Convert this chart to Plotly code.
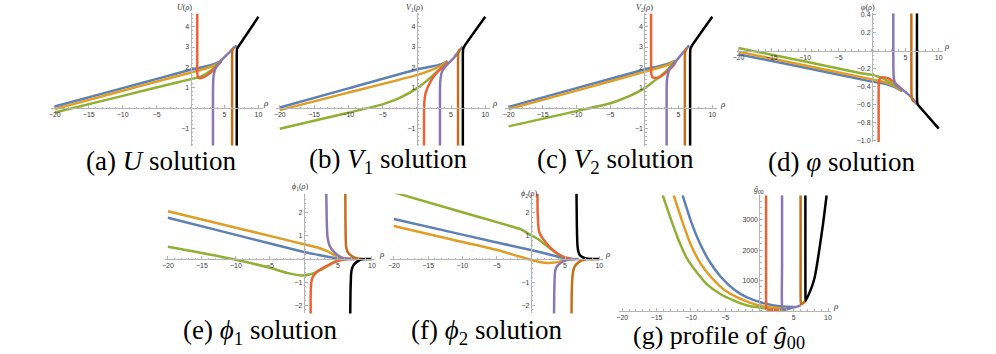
import plotly.graph_objects as go

W, H = 996, 354

# Mathematica default palette + black
COLORS = ["#5E81B5", "#E19C24", "#8FB032", "#EB6235", "#8778B3", "#C56E1A", "#000000"]

RHO_TICKS = [-20, -15, -10, -5, 5, 10]

# ---- (a) U(rho) ----
U_BLUE = [(-20, 0.08), (-10, 0.98), (-4, 1.52), (0, 1.88), (2, 2.03), (3.5, 2.17), (4.5, 2.32)]
U_ORANGE = [(-20, -0.05), (-10, 0.85), (-4, 1.39), (0, 1.74), (2, 1.92), (3.5, 2.1), (4.5, 2.3)]
U_GREEN = [(-20, -0.22), (-10, 0.6), (-2, 1.26), (0, 1.42), (1.5, 1.55), (3, 1.85), (4, 2.15), (4.5, 2.3)]
U_RED = [(0.98, 4.65), (0.98, 2.5), (1.0, 1.7), (1.1, 1.52), (1.4, 1.47), (1.95, 1.52),
         (2.9, 1.73), (3.66, 1.98), (4.3, 2.22), (4.6, 2.36)]
U_PURPLE = [(3.3, -1.85), (3.3, 0.5), (3.33, 1.3), (3.45, 1.7), (3.8, 2.05), (4.6, 2.38),
            (5.6, 2.7), (6.3, 2.95), (6.8, 3.08)]
U_DKORANGE = [(6.12, -1.85), (6.12, 2.5), (6.17, 2.85), (6.3, 2.95)]
U_BLACK = [(6.8, -1.85), (6.8, 2.6), (6.85, 2.92), (7.1, 3.05), (10, 4.49)]
U_TICKS = [-1, 1, 2, 3, 4]

# ---- (b) V1(rho) ----
V1_BLUE = [(-20, 0.03), (-10, 0.97), (0, 1.9), (2, 2.03), (3.5, 2.15), (4.5, 2.3)]
V1_ORANGE = [(-20, -0.1), (-10, 0.76), (0, 1.62), (2, 1.85), (3.5, 2.08), (4.5, 2.3)]
V1_GREEN = [(-20, -1.02), (-10, -0.23), (-5, 0.18), (-2.5, 0.5), (0, 0.97), (1.5, 1.35),
            (3, 1.8), (4, 2.12), (4.5, 2.3)]
V1_RED = [(1.05, -1.85), (1.05, -0.5), (1.1, 0.3), (1.3, 0.76), (1.8, 1.17), (2.5, 1.57),
          (3.24, 1.85), (4.2, 2.14), (4.5, 2.3)]
V1_PURPLE = [(3.38, -1.85), (3.38, 0.5), (3.42, 1.3), (3.7, 1.81), (4.45, 2.14), (5.4, 2.46),
             (6.1, 2.78), (6.7, 3.03)]
V1_DKORANGE = [(6.02, -1.85), (6.02, 2.4), (6.08, 2.75), (6.3, 2.9)]
V1_BLACK = [(6.72, -1.85), (6.72, 2.6), (6.78, 2.92), (7.0, 3.07), (10, 4.49)]

# ---- (c) V2(rho) ----
V2_BLUE = [(-20, 0.06), (-10, 0.98), (0, 1.9), (2, 2.05), (3.5, 2.18), (4.5, 2.32)]
V2_ORANGE = [(-20, -0.05), (-10, 0.86), (0, 1.78), (2, 1.97), (3.5, 2.12), (4.5, 2.32)]
V2_GREEN = [(-20, -0.9), (-10, -0.15), (-5, 0.24), (-2.5, 0.55), (0, 0.97), (1.5, 1.35),
            (3, 1.75), (4, 2.1), (4.5, 2.32)]
V2_RED = [(0.98, 4.65), (0.98, 2.5), (1.0, 1.75), (1.15, 1.52), (1.6, 1.48), (2.3, 1.53),
          (2.9, 1.68), (3.8, 1.93), (4.4, 2.14), (4.6, 2.3)]
V2_PURPLE = [(3.27, -1.85), (3.27, 0.5), (3.3, 1.3), (3.45, 1.65), (3.66, 1.9), (4.4, 2.22),
             (5.1, 2.49), (5.85, 2.79), (6.6, 3.08)]
V2_DKORANGE = [(5.95, -1.85), (5.95, 2.4), (6.0, 2.75), (6.2, 2.92)]
V2_BLACK = [(6.73, -1.85), (6.73, 2.6), (6.78, 2.92), (7.0, 3.07), (10, 4.49)]

# ---- (d) varphi(rho) ----
PHI_BLUE = [(-20, -0.04), (-10, -0.19), (0, -0.345), (2, -0.37), (3.5, -0.41), (4.5, -0.45)]
PHI_ORANGE = [(-20, -0.01), (-10, -0.165), (0, -0.32), (2, -0.35), (3.5, -0.4), (4.5, -0.45)]
PHI_GREEN = [(-20, 0.03), (-10, -0.12), (-2, -0.245), (0, -0.27), (1, -0.29), (2, -0.32),
             (3, -0.37), (4, -0.42), (4.5, -0.45)]
PHI_RED = [(1.0, -1.02), (1.0, -0.5), (1.03, -0.36), (1.2, -0.31), (1.6, -0.295), (2.5, -0.31),
           (3.4, -0.36), (4.2, -0.41), (4.6, -0.45)]
PHI_PURPLE = [(3.2, 0.42), (3.2, -0.1), (3.25, -0.28), (3.4, -0.35), (3.7, -0.39), (4.43, -0.43),
              (5.4, -0.485), (6.15, -0.54), (6.7, -0.6)]
PHI_DKORANGE = [(5.9, 0.42), (5.9, -0.3), (5.93, -0.5), (6.05, -0.55), (6.3, -0.57)]
PHI_BLACK = [(6.74, 0.42), (6.74, -0.3), (6.76, -0.56), (6.85, -0.6), (7.3, -0.64), (10, -0.87)]
PHI_TICKS = [-1.0, -0.8, -0.6, -0.4, -0.2, 0.2, 0.4]

# ---- (e) phi1(rho) ----
E_BLUE = [(-20, 1.79), (-10, 1.05), (0, 0.31), (2, 0.19), (3.5, 0.1), (4.5, 0.05), (5.5, 0.02),
          (6.5, 0.0), (8, 0.0)]
E_ORANGE = [(-20, 2.07), (-10, 1.36), (-4, 0.93), (0, 0.64), (2, 0.5), (3.5, 0.33), (4.5, 0.17),
            (5.5, 0.05), (6.5, 0.01), (8, 0.0)]
E_GREEN = [(-20, 0.53), (-15, 0.26), (-10, -0.03), (-5, -0.38), (-2.5, -0.6), (-0.5, -0.71),
           (1, -0.66), (2.3, -0.5), (3.5, -0.3), (4.3, -0.14), (5.3, -0.03), (6.5, 0.0)]
E_RED = [(1.0, -2.4), (1.0, -1.5), (1.1, -1.0), (1.3, -0.78), (1.85, -0.57), (3.3, -0.31),
         (4.5, -0.14), (5.5, -0.04), (6.5, 0.0)]
E_PURPLE = [(3.3, 2.85), (3.35, 1.8), (3.46, 1.0), (3.8, 0.57), (4.5, 0.29), (5.5, 0.07),
            (6.5, 0.01), (7.5, 0.0)]
E_DKORANGE = [(6.09, 2.85), (6.12, 1.5), (6.2, 0.57), (6.4, 0.33), (6.7, 0.21), (7.7, 0.04),
              (8.7, 0.0)]
E_BLACK = [(6.82, -2.4), (6.85, -1.5), (6.97, -0.57), (7.15, -0.35), (7.45, -0.21), (8.2, -0.04),
           (9, 0.0), (10, 0.0)]
PHI12_TICKS = [-2, -1, 1, 2]

# ---- (f) phi2(rho) ----
F_BLUE = [(-20, 1.74), (-10, 1.06), (0, 0.39), (2, 0.25), (4, 0.1), (5, 0.03), (6, 0.0)]
F_ORANGE = [(-20, 1.43), (-10, 0.74), (-5, 0.4), (-2, 0.14), (0, -0.03), (1.5, -0.14),
            (2.5, -0.17), (3.5, -0.15), (4.5, -0.09), (5.5, -0.02), (6.5, 0.0)]
F_GREEN = [(-20, 2.89), (-10, 2.03), (-5, 1.6), (-2.5, 1.39), (-1.3, 1.27), (0.15, 1.01),
           (1.1, 0.86), (2.1, 0.62), (3, 0.42), (4, 0.2), (5, 0.06), (6, 0.0)]
F_RED = [(0.97, 2.85), (1.0, 2.0), (1.2, 1.2), (1.6, 0.95), (2.2, 0.72), (3, 0.45), (4, 0.22),
         (5, 0.07), (6, 0.0)]
F_PURPLE = [(3.39, -2.4), (3.42, -1.5), (3.53, -0.56), (3.7, -0.38), (4.0, -0.25), (5.0, -0.07),
            (6.0, -0.01), (7, 0.0)]
F_DKORANGE = [(5.95, -2.4), (5.97, -1.5), (6.1, -0.7), (6.25, -0.45), (6.43, -0.31), (7.16, -0.1),
              (8.1, -0.01), (9, 0.0)]
F_BLACK = [(6.67, 2.85), (6.72, 1.5), (6.82, 0.56), (6.95, 0.32), (7.16, 0.17), (7.9, 0.04),
           (9, 0.0), (10, 0.0)]

# ---- (g) g00 profile ----
G_BLUE = [(-11.2, 3800), (-10.0, 2960), (-8.8, 2280), (-7.35, 1650), (-5.65, 1125), (-3.7, 707),
          (-1.8, 443), (0.15, 286), (2.1, 182), (4.0, 135), (5.0, 130)]
G_ORANGE = [(-12.5, 3800), (-11.2, 2910), (-10.0, 2175), (-8.55, 1545), (-7.1, 1125), (-5.2, 707),
            (-3.2, 443), (-1.3, 267), (0.6, 151), (2.6, 98), (4.0, 75)]
G_GREEN = [(-14.1, 3800), (-12.9, 3010), (-11.7, 2280), (-10.5, 1700), (-9.0, 1230), (-7.6, 865),
           (-5.65, 550), (-3.7, 340), (-1.8, 182), (0.15, 110), (1.6, 60), (3.0, 40), (4.0, 45)]
G_RED = [(0.97, 3800), (0.97, 1500), (0.98, 200), (1.05, 50), (1.5, 38), (2.5, 35), (3.1, 38)]
G_PURPLE = [(3.3, 3800), (3.3, 1500), (3.32, 100), (3.5, 45), (4.2, 65), (5.0, 115), (5.6, 150),
            (6.0, 185)]
G_DKORANGE = [(6.0, 3800), (6.0, 1500), (6.02, 300), (6.1, 210), (6.4, 260), (6.75, 340)]
G_BLACK = [(6.7, 3800), (6.7, 1500), (6.72, 400), (6.75, 340), (7.2, 550), (7.65, 800),
           (8.05, 1100), (8.45, 1600), (8.84, 2180), (9.3, 2900), (9.8, 3800)]
G_TICKS = [1000, 2000, 3000]

# layout: origin pixel of (0,0), pixels per unit, axis ranges
PANELS = [
    dict(curves=[U_BLUE, U_ORANGE, U_GREEN, U_RED, U_PURPLE, U_DKORANGE, U_BLACK],
         origin=(186.7, 107.3), scale=(6.83, 20.58), xr=(-20.5, 10.7), yr=(-1.85, 4.65),
         yticks=U_TICKS, ydt=0.2, fmt="", label="<i>U</i>(<i>ρ</i>)", label_px=(181, 6),
         rho_px=(263, 102), caption="(a) <i>U</i> solution", cap_px=(157, 161), cap_size=27),
    dict(curves=[V1_BLUE, V1_ORANGE, V1_GREEN, V1_RED, V1_PURPLE, V1_DKORANGE, V1_BLACK],
         origin=(414.3, 107.3), scale=(6.89, 20.58), xr=(-20.5, 10.7), yr=(-1.85, 4.65),
         yticks=U_TICKS, ydt=0.2, fmt="", label="<i>V</i><sub>1</sub>(<i>ρ</i>)", label_px=(412, 6),
         rho_px=(493, 102), caption="(b) <i>V</i><sub>1</sub> solution", cap_px=(385, 161), cap_size=27),
    dict(curves=[V2_BLUE, V2_ORANGE, V2_GREEN, V2_RED, V2_PURPLE, V2_DKORANGE, V2_BLACK],
         origin=(643.3, 107.3), scale=(6.83, 20.58), xr=(-20.5, 10.7), yr=(-1.85, 4.65),
         yticks=U_TICKS, ydt=0.2, fmt="", label="<i>V</i><sub>2</sub>(<i>ρ</i>)", label_px=(643, 6),
         rho_px=(722, 103), caption="(c) <i>V</i><sub>2</sub> solution", cap_px=(614, 161), cap_size=27),
    dict(curves=[PHI_BLUE, PHI_ORANGE, PHI_GREEN, PHI_RED, PHI_PURPLE, PHI_DKORANGE, PHI_BLACK],
         origin=(872.2, 49.3), scale=(6.72, 90.5), xr=(-20.2, 10.7), yr=(-1.02, 0.42),
         yticks=PHI_TICKS, ydt=0.05, fmt=".1f", label="<i>φ</i>(<i>ρ</i>)", label_px=(868, 6),
         rho_px=(948, 45), caption="(d) <i>φ</i> solution", cap_px=(842, 162), cap_size=27),
    dict(curves=[E_BLUE, E_ORANGE, E_GREEN, E_RED, E_PURPLE, E_DKORANGE, E_BLACK],
         origin=(300.7, 260.0), scale=(6.84, 23.33), xr=(-20.5, 10.5), yr=(-2.36, 2.83),
         yticks=PHI12_TICKS, ydt=0.2, fmt="", label="<i>ϕ</i><sub>1</sub>(<i>ρ</i>)", label_px=(297, 187),
         rho_px=(379, 255), caption="(e) <i>ϕ</i><sub>1</sub> solution", cap_px=(257, 334), cap_size=27),
    dict(curves=[F_BLUE, F_ORANGE, F_GREEN, F_RED, F_PURPLE, F_DKORANGE, F_BLACK],
         origin=(529.0, 260.0), scale=(6.89, 23.33), xr=(-20.5, 10.5), yr=(-2.36, 2.83),
         yticks=PHI12_TICKS, ydt=0.2, fmt="", label="<i>ϕ</i><sub>2</sub>(<i>ρ</i>)", label_px=(527, 194),
         rho_px=(607, 255), caption="(f) <i>ϕ</i><sub>2</sub> solution", cap_px=(484, 334), cap_size=27),
    dict(curves=[G_BLUE, G_ORANGE, G_GREEN, G_RED, G_PURPLE, G_DKORANGE, G_BLACK],
         origin=(759.0, 312.5), scale=(6.9, 0.0308), xr=(-20.5, 10.5), yr=(-40, 3800),
         yticks=G_TICKS, ydt=200, fmt="", label="<i>ĝ</i><sub>00</sub>", label_px=(759, 190),
         rho_px=(836, 307), caption="(g) profile of <i>ĝ</i><sub>00</sub>", cap_px=(718, 339), cap_size=26),
]

AXIS_GRAY = "#b4b4b4"
TICK_FONT = dict(family="Liberation Sans", size=7, color="#3a3a3a")
SERIF = "Liberation Serif, Times New Roman, serif"

fig = go.Figure()
annotations = []

for i, p in enumerate(PANELS, start=1):
    ox, oy = p["origin"]
    sx, sy = p["scale"]
    xr, yr = p["xr"], p["yr"]
    suffix = "" if i == 1 else str(i)

    for curve, color in zip(p["curves"], COLORS):
        fig.add_trace(go.Scatter(
            x=[pt[0] for pt in curve], y=[pt[1] for pt in curve],
            mode="lines", line=dict(color=color, width=2.5, shape="spline", smoothing=0.5),
            xaxis="x" + suffix, yaxis="y" + suffix, showlegend=False, hoverinfo="skip",
        ))

    fig.update_layout({
        "xaxis" + suffix: dict(
            domain=[(ox + sx * xr[0]) / W, (ox + sx * xr[1]) / W], range=list(xr),
            anchor="free", position=1 - oy / H,
            showgrid=False, zeroline=False, showline=True, linecolor=AXIS_GRAY, linewidth=1,
            tickmode="array", tickvals=RHO_TICKS, ticks="inside", ticklen=3, tickcolor=AXIS_GRAY,
            tickfont=TICK_FONT,
            minor=dict(tickmode="linear", tick0=0, dtick=1, ticks="inside", ticklen=1.5,
                       tickcolor=AXIS_GRAY, showgrid=False),
        ),
        "yaxis" + suffix: dict(
            domain=[1 - (oy - sy * yr[0]) / H, 1 - (oy - sy * yr[1]) / H], range=list(yr),
            anchor="free", position=ox / W,
            showgrid=False, zeroline=False, showline=True, linecolor=AXIS_GRAY, linewidth=1,
            tickmode="array", tickvals=p["yticks"], tickformat=p["fmt"], ticks="inside",
            ticklen=3, tickcolor=AXIS_GRAY, tickfont=TICK_FONT,
            minor=dict(tickmode="linear", tick0=0, dtick=p["ydt"], ticks="inside", ticklen=1.5,
                       tickcolor=AXIS_GRAY, showgrid=False),
        ),
    })

    lx, ly = p["label_px"]
    annotations.append(dict(x=lx / W, y=1 - ly / H, xref="paper", yref="paper", text=p["label"],
                            showarrow=False, font=dict(family=SERIF, size=8, color="#333"),
                            xanchor="center", yanchor="middle"))
    rx, ry = p["rho_px"]
    annotations.append(dict(x=rx / W, y=1 - ry / H, xref="paper", yref="paper", text="<i>ρ</i>",
                            showarrow=False, font=dict(family=SERIF, size=9, color="#333"),
                            xanchor="center", yanchor="middle"))
    cx, cy = p["cap_px"]
    annotations.append(dict(x=cx / W, y=1 - cy / H, xref="paper", yref="paper", text=p["caption"],
                            showarrow=False, font=dict(family=SERIF, size=p["cap_size"], color="black"),
                            xanchor="center", yanchor="middle", borderpad=0))

fig.update_layout(
    width=W, height=H, margin=dict(l=0, r=0, t=0, b=0),
    plot_bgcolor="white", paper_bgcolor="white",
    annotations=annotations,
)

# page body has a default 8px margin; drop it so the figure sits at the window origin
fig.write_html("out.html", config={"displayModeBar": False},
               post_script="document.body.style.margin='0px';")
